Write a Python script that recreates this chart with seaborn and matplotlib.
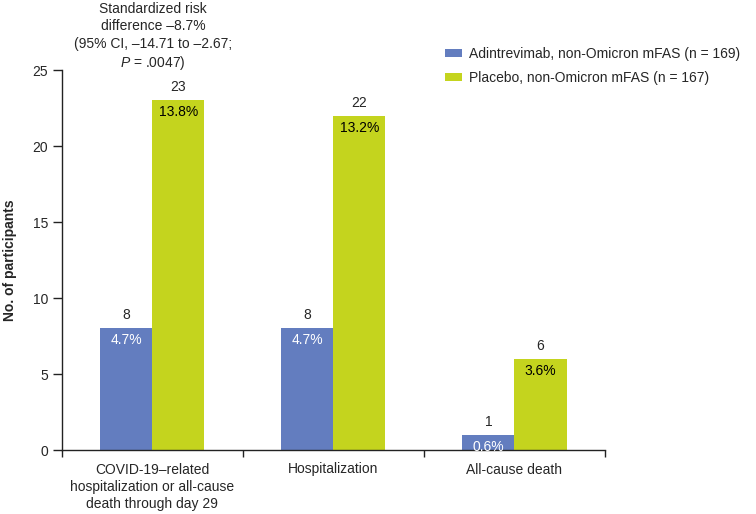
import matplotlib
matplotlib.use("Agg")
import matplotlib.pyplot as plt
import seaborn as sns
import pandas as pd
from matplotlib.patches import Patch

categories = ["COVID-19\u2013related\nhospitalization or all-cause\ndeath through day 29",
              "Hospitalization", "All-cause death"]
groups = ["Adintrevimab, non-Omicron mFAS (n = 169)",
          "Placebo, non-Omicron mFAS (n = 167)"]
counts_adint = [8, 8, 1]
counts_placebo = [23, 22, 6]
pct_adint = [4.7, 4.7, 0.6]
pct_placebo = [13.8, 13.2, 3.6]
yticks = [0, 5, 10, 15, 20, 25]
colors = ["#637DBF", "#C4D41E"]

sns.set_style("white")
plt.rcParams["font.family"] = ["Liberation Sans", "DejaVu Sans"]
plt.rcParams["mathtext.fontset"] = "custom"
plt.rcParams["mathtext.rm"] = "Liberation Sans"
plt.rcParams["mathtext.it"] = "Liberation Sans:italic"

df = pd.DataFrame({
    "category": categories * 2,
    "group": [groups[0]] * 3 + [groups[1]] * 3,
    "count": counts_adint + counts_placebo,
})

fig = plt.figure(figsize=(7.56, 5.14), dpi=100)
ax = fig.add_axes([61.7 / 756, 1 - 450 / 514, (605 - 61.7) / 756, (450 - 70) / 514])

sns.barplot(data=df, x="category", y="count", hue="group", palette=colors,
            width=0.575, ax=ax, legend=False, saturation=1, linewidth=0)

ax.set_xlim(-0.5, 2.5)
ax.set_ylim(0, 25)
ax.set_yticks(yticks)
ax.tick_params(axis="y", length=6.5, width=1, pad=3.2, labelsize=10, color="#222222", direction="out", left=True)
ax.set_xticks([-0.5, 0.5, 1.5, 2.5], minor=True)
ax.set_xticks([0, 1, 2])
ax.set_xticklabels(categories, fontsize=10, linespacing=1.3)
ax.tick_params(axis="x", which="major", length=0, pad=9)
ax.tick_params(axis="x", which="minor", length=5, width=1, color="#222222", direction="out", bottom=True)
for s in ["top", "right"]:
    ax.spines[s].set_visible(False)
for s in ["left", "bottom"]:
    ax.spines[s].set_color("#222222")
    ax.spines[s].set_linewidth(1)
ax.set_xlabel("")
ax.set_ylabel("No. of participants", fontsize=10, fontweight="bold", labelpad=11)

pct_lists = [pct_adint, pct_placebo]
cnt_lists = [counts_adint, counts_placebo]
txt_colors = ["white", "black"]
for ci, cont in enumerate(ax.containers):
    for bi, bar in enumerate(cont):
        xc = bar.get_x() + bar.get_width() / 2
        h = bar.get_height()
        ax.annotate(f"{cnt_lists[ci][bi]}", (xc, h), xytext=(0, 13), textcoords="offset pixels",
                    ha="center", va="center", fontsize=10, annotation_clip=False)
        ax.annotate(f"{pct_lists[ci][bi]}%", (xc, h), xytext=(0, -12), textcoords="offset pixels",
                    ha="center", va="center", fontsize=10, color=txt_colors[ci])

fig.text(153 / 756, 1 - 2 / 514,
         "Standardized risk\ndifference \u20138.7%\n(95% CI, \u201314.71 to \u20132.67;\n$P$ = .0047)",
         ha="center", va="top", fontsize=10, linespacing=1.3)

handles = [Patch(facecolor=c, edgecolor="none") for c in colors]
fig.legend(handles, groups, loc="upper left", bbox_to_anchor=(445 / 756, 1 - 47 / 514),
           frameon=False, fontsize=10, handlelength=1.25, handleheight=0.45,
           handletextpad=0.5, labelspacing=0.7, borderpad=0, borderaxespad=0)

fig.savefig("out.png", dpi=100)
